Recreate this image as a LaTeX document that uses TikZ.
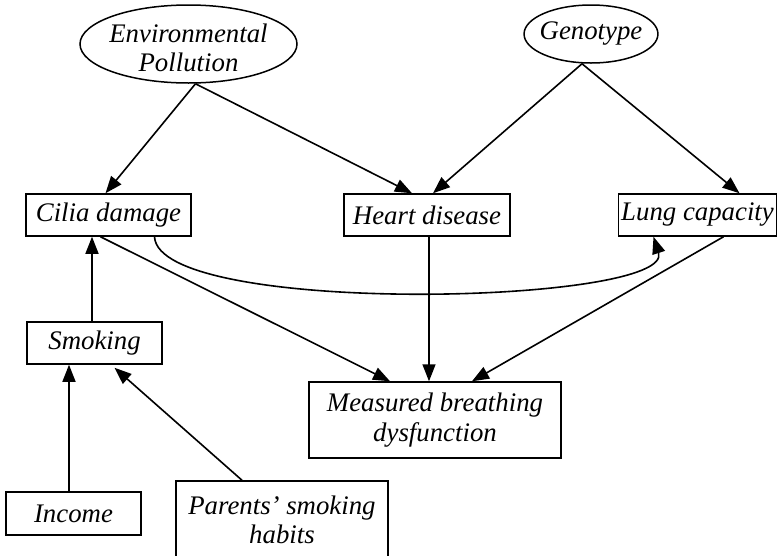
\documentclass[tikz,border=0pt]{standalone}
\usepackage{fontspec}
\setmainfont{Liberation Serif}
\usetikzlibrary{arrows.meta,shapes.geometric}
\begin{document}
\begin{tikzpicture}[x=1pt,y=-1pt,
  every node/.style={font=\fontsize{26.8}{29.5}\selectfont\itshape, align=center, inner sep=0pt, line width=1.5pt},
  boxnode/.style={draw, rectangle},
  ellnode/.style={draw, ellipse},
  conn/.style={line width=1.6pt, -{Triangle[length=17pt,width=13pt]}}]
\useasboundingbox (0,0) rectangle (778,555);
\begin{scope}
\clip (0,0) rectangle (778,555);
\node[ellnode, minimum width=217pt, minimum height=78pt] (env) at (188.5,44) {};
\node[font=\fontsize{26.8}{28.5}\selectfont\itshape] (envtext) at (188.5,48) {Environmental\\Pollution};
\node[ellnode, minimum width=124pt, minimum height=58pt, inner xsep=-4pt] (geno) at (591,34) {Genotype};
\node[boxnode, minimum width=165pt, minimum height=42pt] (cilia) at (108.5,215) {Cilia damage};
\node[boxnode, minimum width=166pt, minimum height=42pt] (heart) at (427,215) {Heart disease};
\node[boxnode, minimum width=158pt, minimum height=42pt] (lung) at (697.5,215) {Lung capacity};
\node[boxnode, minimum width=135pt, minimum height=42pt] (smoking) at (94.5,343) {Smoking};
\node[boxnode, minimum width=135pt, minimum height=43pt] (income) at (73.5,513.5) {Income};
\node[boxnode, minimum width=212pt, minimum height=78pt] (parents) at (282,520) {Parents’ smoking\\habits};
\node[boxnode, minimum width=252pt, minimum height=76pt] (measured) at (435,420) {Measured breathing\\dysfunction};
\end{scope}
\draw[conn] ([xshift=7pt]env.south) -- ([xshift=-3pt]cilia.north);
\draw[conn] ([xshift=7pt]env.south) -- ([xshift=-15pt]heart.north);
\draw[conn] ([xshift=-9pt]geno.south) -- ([xshift=6pt]heart.north);
\draw[conn] ([xshift=-9pt]geno.south) -- ([xshift=42pt]lung.north);
\draw[conn] ([xshift=-8pt]cilia.south) -- ([xshift=-45pt]measured.north);
\draw[conn] ([xshift=2pt]heart.south) -- ([xshift=-6pt]measured.north);
\draw[conn] ([xshift=26pt]lung.south) -- ([xshift=37pt]measured.north);
\draw[conn] ([xshift=-2.5pt]smoking.north) -- ([xshift=-16.5pt]cilia.south);
\draw[conn] ([xshift=-4.5pt]income.north) -- ([xshift=-25.5pt]smoking.south);
\draw[conn] ([xshift=-40pt]parents.north) -- ([xshift=20pt,yshift=-3pt]smoking.south);
\draw[conn] ([xshift=46pt]cilia.south) .. controls +(4,80) and +(22,68) .. ([xshift=-44pt]lung.south);
\end{tikzpicture}
\end{document}
